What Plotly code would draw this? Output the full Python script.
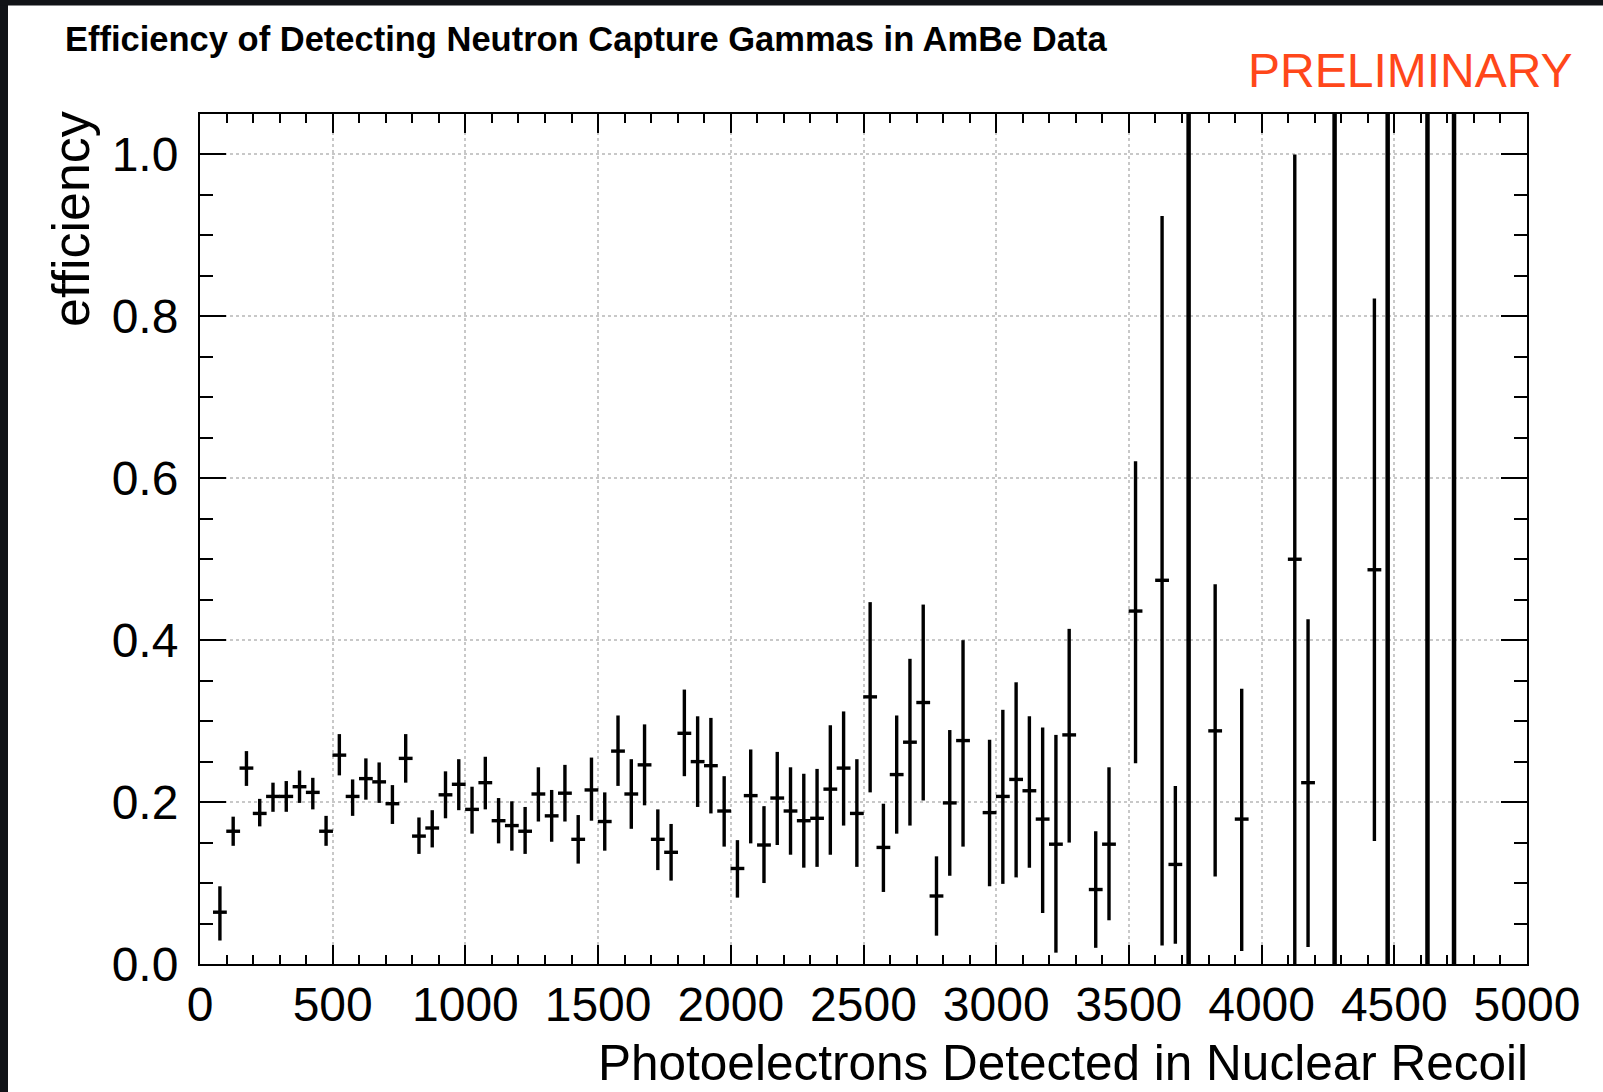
import plotly.graph_objects as go

# ---- data ----
pe_bins = [75, 125, 175, 225, 275, 325, 375, 425, 475, 525, 575, 625, 675, 725, 775, 825, 875, 925, 975,
           1025, 1075, 1125, 1175, 1225, 1275, 1325, 1375, 1425, 1475, 1525, 1575, 1625, 1675, 1725, 1775,
           1825, 1875, 1925, 1975, 2025, 2075, 2125, 2175, 2225, 2275, 2325, 2375, 2425, 2475, 2525, 2575,
           2625, 2675, 2725, 2775, 2825, 2875, 2975, 3025, 3075, 3125, 3175, 3225, 3275, 3375, 3425, 3525,
           3625, 3675, 3825, 3925, 4125, 4175, 4425]
eff = [0.064, 0.164, 0.242, 0.186, 0.207, 0.207, 0.219, 0.212, 0.164, 0.258, 0.207, 0.229, 0.225, 0.198,
       0.254, 0.158, 0.168, 0.209, 0.222, 0.191, 0.224, 0.177, 0.171, 0.164, 0.210, 0.183, 0.211, 0.154,
       0.215, 0.176, 0.263, 0.210, 0.246, 0.154, 0.138, 0.285, 0.250, 0.245, 0.189, 0.118, 0.208, 0.147,
       0.205, 0.189, 0.177, 0.180, 0.216, 0.242, 0.186, 0.330, 0.144, 0.234, 0.274, 0.323, 0.084, 0.199,
       0.276, 0.187, 0.207, 0.228, 0.214, 0.179, 0.148, 0.283, 0.092, 0.148, 0.436, 0.474, 0.123, 0.288,
       0.179, 0.500, 0.224, 0.487]
eff_hi = [0.096, 0.182, 0.263, 0.204, 0.224, 0.226, 0.239, 0.230, 0.183, 0.284, 0.228, 0.254, 0.249, 0.221,
          0.284, 0.181, 0.190, 0.238, 0.253, 0.219, 0.256, 0.205, 0.201, 0.194, 0.243, 0.215, 0.246, 0.184,
          0.255, 0.212, 0.307, 0.253, 0.296, 0.191, 0.173, 0.339, 0.306, 0.304, 0.232, 0.153, 0.265, 0.195,
          0.262, 0.243, 0.235, 0.241, 0.295, 0.312, 0.253, 0.447, 0.198, 0.307, 0.377, 0.444, 0.133, 0.289,
          0.400, 0.277, 0.314, 0.348, 0.306, 0.292, 0.283, 0.414, 0.164, 0.243, 0.621, 0.924, 0.220, 0.469,
          0.340, 1.000, 0.426, 0.822]
eff_lo = [0.029, 0.146, 0.220, 0.170, 0.188, 0.188, 0.199, 0.191, 0.146, 0.233, 0.183, 0.203, 0.199, 0.173,
          0.224, 0.136, 0.144, 0.180, 0.190, 0.161, 0.191, 0.149, 0.140, 0.136, 0.176, 0.151, 0.176, 0.124,
          0.177, 0.140, 0.220, 0.167, 0.196, 0.116, 0.103, 0.232, 0.194, 0.186, 0.145, 0.082, 0.149, 0.100,
          0.147, 0.135, 0.119, 0.120, 0.135, 0.171, 0.120, 0.212, 0.089, 0.161, 0.171, 0.202, 0.035, 0.109,
          0.145, 0.096, 0.099, 0.107, 0.119, 0.063, 0.014, 0.150, 0.020, 0.054, 0.248, 0.023, 0.025, 0.108,
          0.016, 0.000, 0.021, 0.152]

# bins whose error bar spans the whole axis (undetermined efficiency)
undef_bins = [3725, 4275, 4475, 4625, 4725]
undef_eff = [0.5, 0.5, 0.5, 0.5, 0.5]
undef_hi = [1.2, 1.2, 1.2, 1.2, 1.2]
undef_lo = [0.0, 0.0, 0.0, 0.0, 0.0]

bin_half_width = 26

err_plus = [h - v for h, v in zip(eff_hi, eff)]
err_minus = [v - l for v, l in zip(eff, eff_lo)]
u_plus = [h - v for h, v in zip(undef_hi, undef_eff)]
u_minus = [v - l for v, l in zip(undef_eff, undef_lo)]

FONT = "Liberation Sans, Arial, Helvetica, sans-serif"

fig = go.Figure()
fig.add_trace(go.Scatter(
    x=pe_bins, y=eff, mode="markers",
    marker=dict(size=1, color="rgba(0,0,0,0)"),
    error_y=dict(type="data", symmetric=False, array=err_plus, arrayminus=err_minus,
                 color="black", thickness=3.4, width=0),
    error_x=dict(type="constant", value=bin_half_width, color="black", thickness=3.4, width=0),
    showlegend=False, hoverinfo="x+y",
))
fig.add_trace(go.Scatter(
    x=undef_bins, y=undef_eff, mode="markers",
    marker=dict(size=1, color="rgba(0,0,0,0)"),
    error_y=dict(type="data", symmetric=False, array=u_plus, arrayminus=u_minus,
                 color="black", thickness=4.5, width=0),
    showlegend=False, hoverinfo="x",
))

axis_common = dict(
    showline=True, linecolor="black", linewidth=2, mirror="allticks",
    ticks="inside", tickcolor="black", tickwidth=2,
    showgrid=True, gridcolor="#c8c8c8", griddash="dot", gridwidth=2,
    zeroline=False,
    tickfont=dict(family=FONT, size=48, color="black"),
)

fig.update_xaxes(**axis_common, range=[0, 5000], tick0=0, dtick=500, ticklen=19,
                 minor=dict(dtick=100, ticklen=9, tickwidth=2, tickcolor="black", ticks="inside", showgrid=False),
                 ticklabelstandoff=-3)
fig.update_yaxes(**axis_common, range=[0, 1.05], tick0=0, dtick=0.2, tickformat=".1f", ticklen=26,
                 minor=dict(dtick=0.05, ticklen=13, tickwidth=2, tickcolor="black", ticks="inside", showgrid=False),
                 ticklabelstandoff=10)

L, R, T, B = 200, 76, 113.5, 128
fig.update_layout(
    width=1603, height=1092,
    margin=dict(l=L, r=R, t=T, b=B, pad=0),
    paper_bgcolor="white", plot_bgcolor="white",
    font=dict(family=FONT, color="black"),
    annotations=[
        dict(text="<b>Efficiency of Detecting Neutron Capture Gammas in AmBe Data</b>",
             xref="paper", yref="paper", x=-0.1032, y=1.0888, xanchor="left", yanchor="middle",
             showarrow=False, font=dict(family=FONT, size=34.5, color="black")),
        dict(text="PRELIMINARY", xref="paper", yref="paper", x=1.0362, y=1.0506,
             xanchor="right", yanchor="middle", showarrow=False,
             font=dict(family=FONT, size=48, color="#ff471a")),
        dict(text="efficiency", xref="paper", yref="paper", x=-0.0968, y=0.876, textangle=-90,
             xanchor="center", yanchor="middle", showarrow=False,
             font=dict(family=FONT, size=52, color="black")),
        dict(text="Photoelectrons Detected in Nuclear Recoil", xref="paper", yref="paper",
             x=1.0023, y=-0.1155, xanchor="right", yanchor="middle", showarrow=False,
             font=dict(family=FONT, size=49.5, color="black")),
    ],
    shapes=[
        dict(type="rect", xref="paper", yref="paper", layer="above",
             xsizemode="pixel", xanchor=0, x0=-205, x1=-192,
             ysizemode="pixel", yanchor=0, y0=-140, y1=1000,
             fillcolor="#111317", line=dict(width=0)),
        dict(type="rect", xref="paper", yref="paper", layer="above",
             xsizemode="pixel", xanchor=0, x0=-205, x1=1420,
             ysizemode="pixel", yanchor=1, y0=108.5, y1=125,
             fillcolor="#111317", line=dict(width=0)),
    ],
)

fig.write_html("out.html", config={"displayModeBar": False},
               post_script="document.body.style.margin='0';document.body.style.overflow='hidden';")
